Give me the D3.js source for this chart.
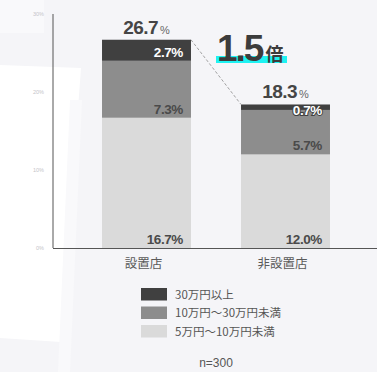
<!DOCTYPE html>
<html><head><meta charset="utf-8">
<script src="https://cdn.jsdelivr.net/npm/d3@7"></script>
<style>
html,body{margin:0;padding:0;background:#f5f5f8;}
svg{display:block;}
</style></head>
<body>
<svg id="chart" width="377" height="372"></svg>
<script>
// Stores and share of spend by amount band
const categories = ["設置店", "非設置店"];
const seriesNames = ["5万円～10万円未満", "10万円～30万円未満", "30万円以上"];
const lowBand = [16.7, 12.0];
const midBand = [7.3, 5.7];
const highBand = [2.7, 0.7];
const totals = [26.7, 18.3];
const yTicks = [0, 10, 20, 30];
const ratioLabel = "1.5";
const sampleNote = "n=300";

const colors = ["#dadada", "#8d8d8d", "#404040"];
const labelFont = "'Liberation Sans', Arial, sans-serif";
const jpFont = "'Noto Sans CJK JP', 'Noto Sans', sans-serif";

const svg = d3.select("#chart");

// soft backdrop panels
const bg = svg.append("g");
bg.append("rect").attr("x", 0).attr("y", 0).attr("width", 44).attr("height", 33).attr("fill", "#f9f9fb");
bg.append("polygon").attr("points", "0,65 81,68 61,342 0,338").attr("fill", "#ffffff");
bg.append("polygon").attr("points", "70,100 82,100 70,372 58,372").attr("fill", "#f9f9fb");

const y = d3.scaleLinear().domain([0, 30]).range([248, 14]);
const x = d3.scaleBand().domain(categories).range([77, 355]).paddingInner(0.36).paddingOuter(0.18);

// stacked segments
const rows = categories.map((c, i) => ({cat: c, low: lowBand[i], mid: midBand[i], high: highBand[i]}));
const stack = d3.stack().keys(["low", "mid", "high"]);
const layers = stack(rows);

const barG = svg.append("g");
layers.forEach((layer, li) => {
  barG.selectAll(null).data(layer).enter().append("rect")
    .attr("x", d => x(d.data.cat))
    .attr("width", x.bandwidth())
    .attr("y", d => y(d[1]))
    .attr("height", d => y(d[0]) - y(d[1]))
    .attr("fill", colors[li]);
});

// axis lines
svg.append("line").attr("x1", 53).attr("x2", 53).attr("y1", 14).attr("y2", 248).attr("stroke", "#555").attr("stroke-width", 1);
svg.append("line").attr("x1", 53).attr("x2", 377).attr("y1", 248.5).attr("y2", 248.5).attr("stroke", "#555").attr("stroke-width", 1.2);

// faint tick labels
svg.append("g").selectAll("text").data(yTicks).enter().append("text")
  .attr("x", 44).attr("y", d => y(d) + 2)
  .attr("text-anchor", "end")
  .attr("font-family", labelFont).attr("font-size", 5.5)
  .attr("fill", "#c4c4c8")
  .text(d => d + "%");

// segment value labels
const segLabels = svg.append("g");
layers.forEach((layer, li) => {
  layer.forEach(d => {
    const top = y(d[1]), bottom = y(d[0]);
    const base = Math.max(bottom - 4, top + 11);
    const v = d[1] - d[0];
    const t = segLabels.append("text")
      .attr("x", x(d.data.cat) + x.bandwidth() - 8)
      .attr("y", base)
      .attr("text-anchor", "end")
      .attr("font-family", labelFont).attr("font-weight", "bold").attr("font-size", 13.5)
      .attr("letter-spacing", -0.4)
      .text(v.toFixed(1) + "%");
    if (li === 2) {
      t.attr("fill", "#fff");
      if (bottom - top < 14) {
        t.attr("stroke", "#404040").attr("stroke-width", 2).attr("paint-order", "stroke");
      }
    } else {
      t.attr("fill", "#4a4a4a");
    }
  });
});

// totals above bars
categories.forEach((c, i) => {
  const stackTop = y(lowBand[i] + midBand[i] + highBand[i]);
  const t = svg.append("text")
    .attr("x", x(c) + x.bandwidth() / 2)
    .attr("y", stackTop - 6)
    .attr("text-anchor", "middle")
    .attr("font-family", labelFont).attr("font-weight", "bold").attr("fill", "#454545");
  t.append("tspan").attr("font-size", 19).attr("letter-spacing", -0.6).text(totals[i].toFixed(1));
  t.append("tspan").attr("font-size", 11).attr("font-weight", "normal").attr("fill", "#666").attr("dx", 2).text("%");
});

// dashed connector between bar tops
const x0 = x(categories[0]) + x.bandwidth();
const x1 = x(categories[1]);
svg.append("line")
  .attr("x1", x0).attr("y1", y(lowBand[0] + midBand[0] + highBand[0]))
  .attr("x2", x1).attr("y2", y(lowBand[1] + midBand[1] + highBand[1]))
  .attr("stroke", "#8a8a8a").attr("stroke-width", 0.8).attr("stroke-dasharray", "3,2");

// ratio callout
svg.append("rect").attr("x", 216).attr("y", 56).attr("width", 71).attr("height", 7).attr("fill", "#1ef2f2");
const r = svg.append("text").attr("x", 217).attr("y", 61)
  .attr("font-family", labelFont).attr("font-weight", "bold").attr("fill", "#3c3c3c");
r.append("tspan").attr("font-size", 37).attr("letter-spacing", -2).text(ratioLabel);
r.append("tspan").attr("font-family", jpFont).attr("font-size", 18).attr("dx", 3).text("倍");

// category labels
svg.append("g").selectAll("text").data(categories).enter().append("text")
  .attr("x", d => x(d) + x.bandwidth() / 2 - 3)
  .attr("y", 268)
  .attr("text-anchor", "middle")
  .attr("font-family", jpFont).attr("font-size", 12.5).attr("fill", "#5a5a5a")
  .text(d => d);

// legend, darkest band first
const legendItems = [2, 1, 0];
const lg = svg.append("g");
legendItems.forEach((k, i) => {
  const yy = 288 + i * 18.5;
  lg.append("rect").attr("x", 141).attr("y", yy).attr("width", 26).attr("height", 12.5).attr("fill", colors[k]);
  lg.append("text").attr("x", 175).attr("y", yy + 10.5)
    .attr("font-family", jpFont).attr("font-size", 11.5).attr("fill", "#555")
    .text(seriesNames[k]);
});

svg.append("text").attr("x", 216).attr("y", 367).attr("text-anchor", "middle")
  .attr("font-family", labelFont).attr("font-size", 12).attr("fill", "#555")
  .text(sampleNote);
</script>
</body></html>
